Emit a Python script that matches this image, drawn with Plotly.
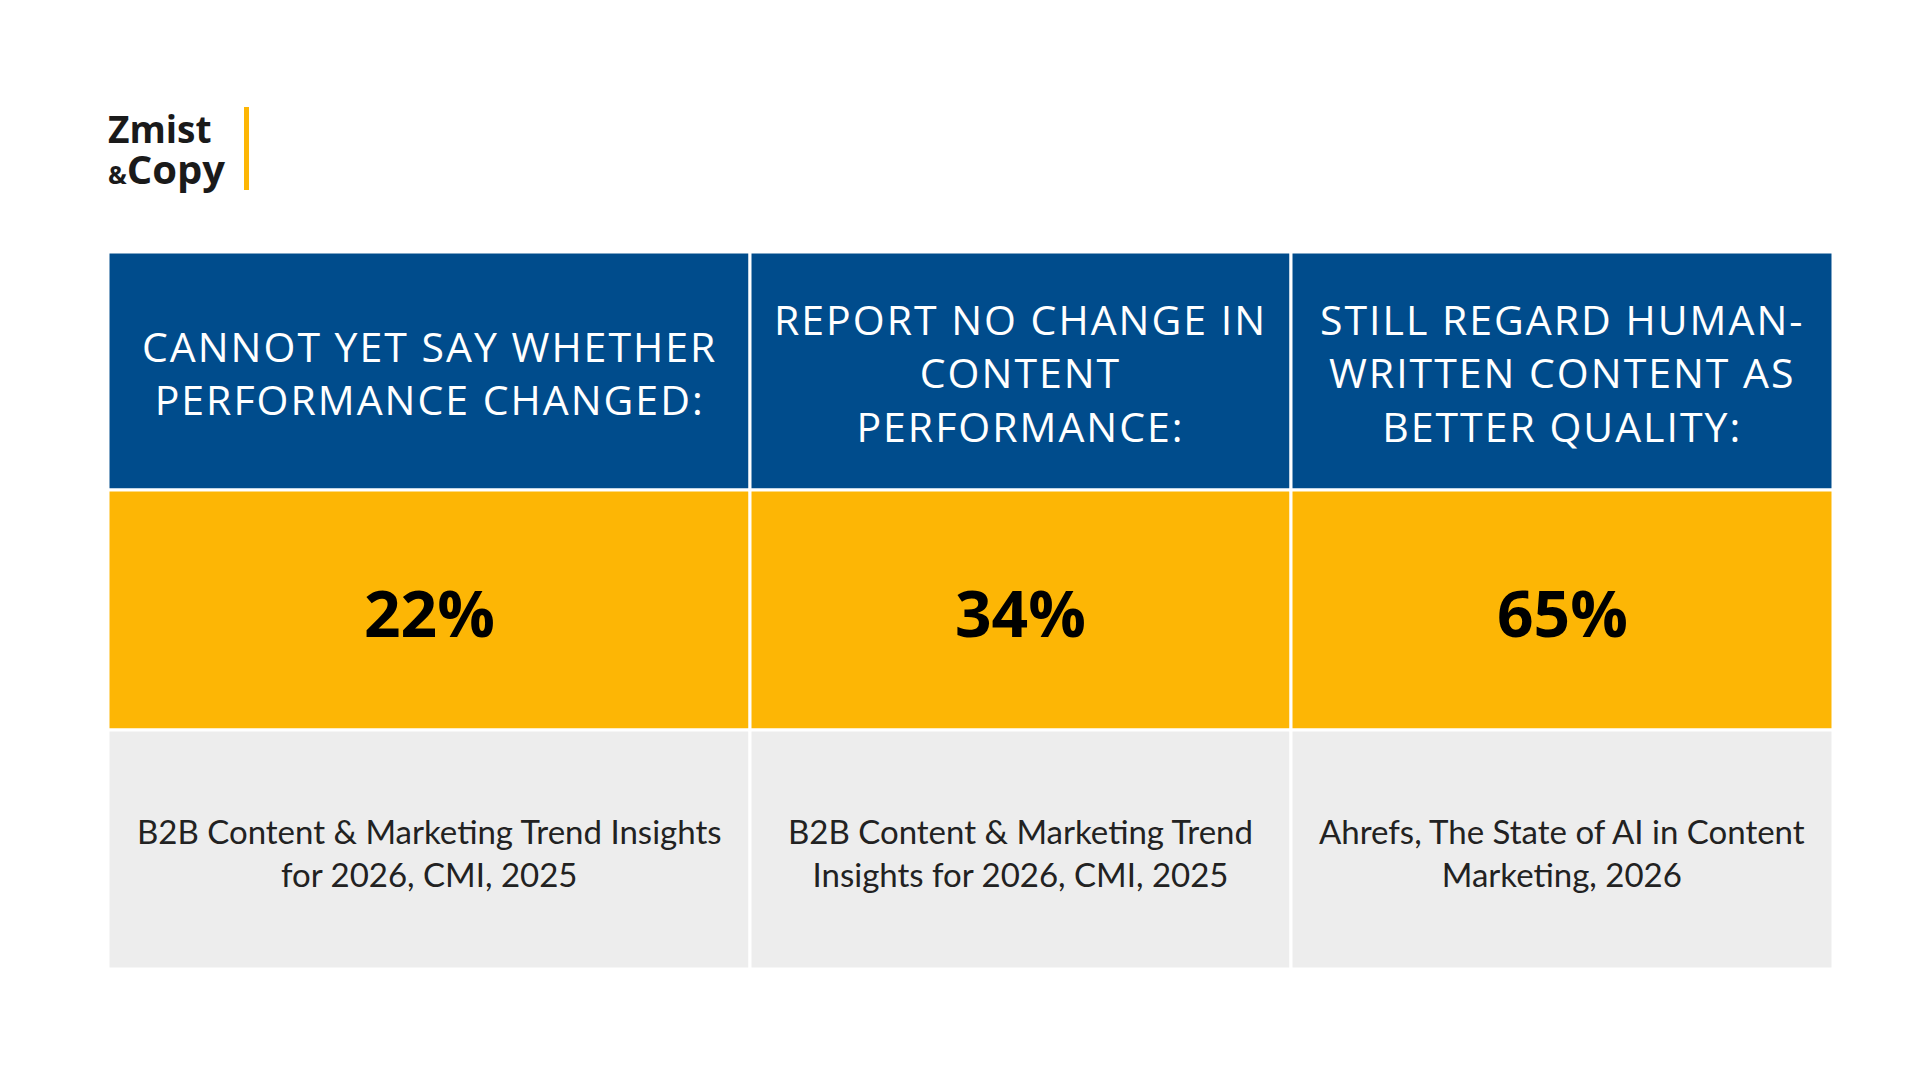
import plotly.graph_objects as go

headers = ["CANNOT YET SAY WHETHER<br>PERFORMANCE CHANGED:",
           "REPORT NO CHANGE IN<br>CONTENT<br>PERFORMANCE:",
           "STILL REGARD HUMAN-<br>WRITTEN CONTENT AS<br>BETTER QUALITY:"]
values = ["22%", "34%", "65%"]
sources = ["B2B Content & Marketing Trend Insights<br>for 2026, CMI, 2025",
           "B2B Content & Marketing Trend<br>Insights for 2026, CMI, 2025",
           "Ahrefs, The State of AI in Content<br>Marketing, 2026"]

# page offset compensation (~9px)
col_edges = [100, 742, 1283, 1825]
row_edges = [244, 482, 722, 961]
fills = ["#004c8c", "#fdb605", "#ededed"]


def spaced(txt, px):
    return "<br>".join("<span style='letter-spacing:%dpx'>%s</span>" % (px, l) for l in txt.split("<br>"))


fig = go.Figure()
shapes = []
annotations = []
for i in range(3):
    x0, x1 = col_edges[i], col_edges[i + 1]
    xc = (x0 + x1) / 2
    for r in range(3):
        shapes.append(dict(type="rect", x0=x0, x1=x1, y0=row_edges[r], y1=row_edges[r + 1],
                           fillcolor=fills[r], line=dict(color="white", width=3), layer="below"))
    annotations.append(dict(x=xc, y=364, text=spaced(headers[i], 2), showarrow=False,
                            font=dict(family="Open Sans", size=41, color="white")))
    annotations.append(dict(x=xc, y=604, text="<b>" + values[i] + "</b>", showarrow=False,
                            font=dict(family="Open Sans", size=64, color="black")))
    annotations.append(dict(x=xc, y=844, text=sources[i], showarrow=False,
                            font=dict(family="Lato", size=33, color="#222222")))

# logo
annotations.append(dict(x=98, y=120, text="<b>Zmist</b>", showarrow=False, xanchor="left",
                        font=dict(family="Open Sans", size=37, color="#1a1a1a")))
annotations.append(dict(x=98, y=160, text="<b><span style='font-size:25px'>&</span>Copy</b>",
                        showarrow=False, xanchor="left",
                        font=dict(family="Open Sans", size=40, color="#1a1a1a")))
shapes.append(dict(type="rect", x0=236, x1=241, y0=99, y1=182, fillcolor="#fdb605", line=dict(width=0)))

fig.add_trace(go.Scatter(x=[0, 1920], y=[0, 1080], mode="markers", marker=dict(opacity=0),
                         hoverinfo="skip", showlegend=False))
fig.update_layout(width=1920, height=1080, margin=dict(l=0, r=0, t=0, b=0),
                  paper_bgcolor="white", plot_bgcolor="white",
                  xaxis=dict(range=[0, 1920], visible=False, fixedrange=True),
                  yaxis=dict(range=[1080, 0], visible=False, fixedrange=True),
                  shapes=shapes, annotations=annotations)
fig.write_html("out.html")
